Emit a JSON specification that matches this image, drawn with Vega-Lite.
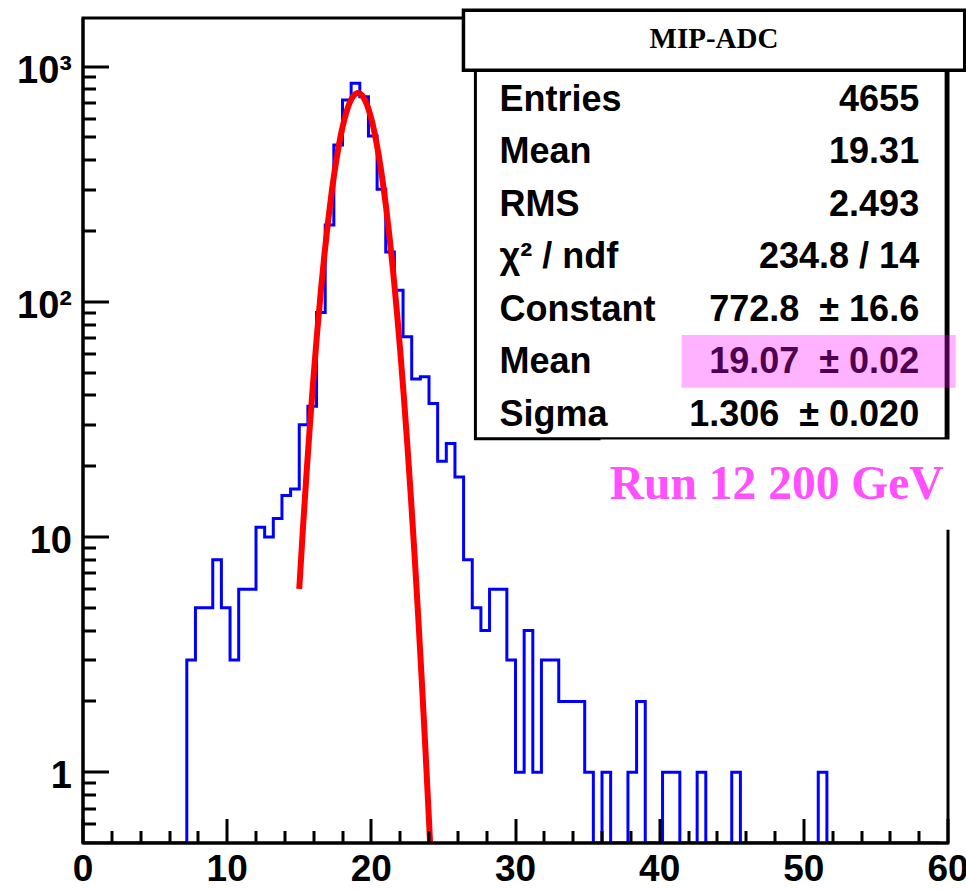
{
  "$schema": "https://vega.github.io/schema/vega-lite/v6.json",
  "width": 865,
  "height": 825,
  "autosize": "none",
  "padding": {"left": 83, "top": 18, "right": 18, "bottom": 47},
  "background": "white",
  "config": {"view": {"stroke": "black", "strokeWidth": 3}, "axis": {"grid": false}},
  "datasets": {
    "hist": [
      {"adc": 0.0, "count": 0}, {"adc": 0.6, "count": 0}, {"adc": 1.2, "count": 0}, {"adc": 1.8, "count": 0},
      {"adc": 2.4, "count": 0}, {"adc": 3.0, "count": 0}, {"adc": 3.6, "count": 0}, {"adc": 4.2, "count": 0},
      {"adc": 4.8, "count": 0}, {"adc": 5.4, "count": 0}, {"adc": 6.0, "count": 0}, {"adc": 6.6, "count": 0},
      {"adc": 7.2, "count": 3}, {"adc": 7.8, "count": 5}, {"adc": 8.4, "count": 5}, {"adc": 9.0, "count": 8},
      {"adc": 9.6, "count": 5}, {"adc": 10.2, "count": 3}, {"adc": 10.8, "count": 6}, {"adc": 11.4, "count": 6},
      {"adc": 12.0, "count": 11}, {"adc": 12.6, "count": 10}, {"adc": 13.2, "count": 12}, {"adc": 13.8, "count": 15},
      {"adc": 14.4, "count": 16}, {"adc": 15.0, "count": 30}, {"adc": 15.6, "count": 36}, {"adc": 16.2, "count": 90},
      {"adc": 16.8, "count": 212}, {"adc": 17.4, "count": 464}, {"adc": 18.0, "count": 721}, {"adc": 18.6, "count": 849},
      {"adc": 19.2, "count": 745}, {"adc": 19.8, "count": 507}, {"adc": 20.4, "count": 301}, {"adc": 21.0, "count": 163},
      {"adc": 21.6, "count": 112}, {"adc": 22.2, "count": 71}, {"adc": 22.8, "count": 47}, {"adc": 23.4, "count": 48},
      {"adc": 24.0, "count": 37}, {"adc": 24.6, "count": 21}, {"adc": 25.2, "count": 25}, {"adc": 25.8, "count": 18},
      {"adc": 26.4, "count": 8}, {"adc": 27.0, "count": 5}, {"adc": 27.6, "count": 4}, {"adc": 28.2, "count": 6},
      {"adc": 28.8, "count": 6}, {"adc": 29.4, "count": 3}, {"adc": 30.0, "count": 1}, {"adc": 30.6, "count": 4},
      {"adc": 31.2, "count": 1}, {"adc": 31.8, "count": 3}, {"adc": 32.4, "count": 3}, {"adc": 33.0, "count": 2},
      {"adc": 33.6, "count": 2}, {"adc": 34.2, "count": 2}, {"adc": 34.8, "count": 1}, {"adc": 35.4, "count": 0},
      {"adc": 36.0, "count": 1}, {"adc": 36.6, "count": 0}, {"adc": 37.2, "count": 0}, {"adc": 37.8, "count": 1},
      {"adc": 38.4, "count": 2}, {"adc": 39.0, "count": 0}, {"adc": 39.6, "count": 0}, {"adc": 40.2, "count": 1},
      {"adc": 40.8, "count": 1}, {"adc": 41.4, "count": 0}, {"adc": 42.0, "count": 0}, {"adc": 42.6, "count": 1},
      {"adc": 43.2, "count": 0}, {"adc": 43.8, "count": 0}, {"adc": 44.4, "count": 0}, {"adc": 45.0, "count": 1},
      {"adc": 45.6, "count": 0}, {"adc": 46.2, "count": 0}, {"adc": 46.8, "count": 0}, {"adc": 47.4, "count": 0},
      {"adc": 48.0, "count": 0}, {"adc": 48.6, "count": 0}, {"adc": 49.2, "count": 0}, {"adc": 49.8, "count": 0},
      {"adc": 50.4, "count": 0}, {"adc": 51.0, "count": 1}, {"adc": 51.6, "count": 0}, {"adc": 52.2, "count": 0},
      {"adc": 52.8, "count": 0}, {"adc": 53.4, "count": 0}, {"adc": 54.0, "count": 0}, {"adc": 54.6, "count": 0},
      {"adc": 55.2, "count": 0}, {"adc": 55.8, "count": 0}, {"adc": 56.4, "count": 0}, {"adc": 57.0, "count": 0},
      {"adc": 57.6, "count": 0}, {"adc": 58.2, "count": 0}, {"adc": 58.8, "count": 0}, {"adc": 59.4, "count": 0}
    ],
    "fit": [
      {"adc": 15.0, "fit": 6.015}, {"adc": 15.25, "fit": 10.72}, {"adc": 15.5, "fit": 18.43}, {"adc": 15.75, "fit": 30.53},
      {"adc": 16.0, "fit": 48.77}, {"adc": 16.25, "fit": 75.10}, {"adc": 16.5, "fit": 111.48}, {"adc": 16.75, "fit": 159.55},
      {"adc": 17.0, "fit": 220.07}, {"adc": 17.25, "fit": 292.66}, {"adc": 17.5, "fit": 375.20}, {"adc": 17.75, "fit": 463.71},
      {"adc": 18.0, "fit": 552.45}, {"adc": 18.25, "fit": 634.55}, {"adc": 18.5, "fit": 702.59}, {"adc": 18.75, "fit": 749.95},
      {"adc": 19.0, "fit": 771.69}, {"adc": 19.07, "fit": 772.8}, {"adc": 19.25, "fit": 765.49}, {"adc": 19.5, "fit": 732.03},
      {"adc": 19.75, "fit": 674.83}, {"adc": 20.0, "fit": 599.75}, {"adc": 20.25, "fit": 513.80}, {"adc": 20.5, "fit": 424.35},
      {"adc": 20.75, "fit": 337.86}, {"adc": 21.0, "fit": 259.33}, {"adc": 21.25, "fit": 191.88}, {"adc": 21.5, "fit": 136.89},
      {"adc": 21.75, "fit": 94.12}, {"adc": 22.0, "fit": 62.38}, {"adc": 22.25, "fit": 39.86}, {"adc": 22.5, "fit": 24.56},
      {"adc": 22.75, "fit": 14.59}, {"adc": 23.0, "fit": 8.352}, {"adc": 23.25, "fit": 4.609}, {"adc": 23.5, "fit": 2.452},
      {"adc": 23.75, "fit": 1.258}, {"adc": 24.0, "fit": 0.622}, {"adc": 24.075, "fit": 0.5}
    ]
  },
  "resolve": {"scale": {"x": "independent", "y": "independent"}, "axis": {"x": "independent", "y": "independent"}},
  "layer": [
    {
      "data": {"name": "hist"},
      "mark": {"type": "line", "interpolate": "step-after", "color": "#0000ff", "strokeWidth": 3, "invalid": "show", "clip": true},
      "encoding": {
        "x": {"field": "adc", "type": "quantitative", "scale": {"domain": [0, 60], "nice": false, "zero": false},
          "axis": {"orient": "bottom", "values": [0, 10, 20, 30, 40, 50, 60], "tickSize": -24, "tickWidth": 3, "tickColor": "black",
            "domainColor": "black", "domainWidth": 3, "labelFont": "Liberation Sans", "labelFontWeight": "bold", "labelFontSize": 37,
            "labelColor": "black", "labelPadding": 33, "labelFlush": false, "labelOverlap": false, "title": null, "grid": false,
            "zindex": 1, "translate": 0}},
        "y": {"field": "count", "type": "quantitative", "scale": {"type": "log", "domain": [0.5, 1610], "nice": false, "clamp": true},
          "axis": {"orient": "left", "values": [1, 10, 100, 1000],
            "labelExpr": "datum.value >= 1000 ? '10³' : datum.value >= 100 ? '10²' : datum.value >= 10 ? '10' : '1'",
            "tickSize": -26, "tickWidth": 3, "tickColor": "black", "domainColor": "black", "domainWidth": 3,
            "labelFont": "Liberation Sans", "labelFontWeight": "bold", "labelFontSize": 38, "labelColor": "black",
            "labelPadding": 37, "labelOffset": 5, "labelBaseline": "middle", "labelAlign": "right", "labelFlush": false, "labelOverlap": false,
            "title": null, "grid": false, "zindex": 1, "translate": 0}}
      }
    },
    {
      "data": {"name": "fit"},
      "mark": {"type": "line", "color": "#ff0000", "strokeWidth": 6, "interpolate": "monotone", "clip": true},
      "encoding": {
        "x": {"field": "adc", "type": "quantitative", "scale": {"domain": [0, 60], "nice": false, "zero": false},
          "axis": {"orient": "bottom", "values": [2, 4, 6, 8, 12, 14, 16, 18, 22, 24, 26, 28, 32, 34, 36, 38, 42, 44, 46, 48, 52, 54, 56, 58],
            "tickSize": -12, "tickWidth": 3, "tickColor": "black", "labels": false, "domain": false, "title": null, "grid": false,
            "zindex": 1, "translate": 0}},
        "y": {"field": "fit", "type": "quantitative", "scale": {"type": "log", "domain": [0.5, 1610], "nice": false},
          "axis": {"orient": "left", "values": [0.6, 0.7, 0.8, 0.9, 2, 3, 4, 5, 6, 7, 8, 9, 20, 30, 40, 50, 60, 70, 80, 90, 200, 300, 400, 500, 600, 700, 800, 900],
            "tickSize": -13, "tickWidth": 3, "tickColor": "black", "labels": false, "domain": false, "title": null, "grid": false,
            "zindex": 1, "translate": 0}}
      }
    },
    {
      "data": {"values": [{}]},
      "mark": {"type": "rect", "fill": "white", "stroke": "black", "strokeWidth": 3, "clip": false},
      "encoding": {
        "x": {"datum": 27.22, "type": "quantitative", "scale": {"domain": [0, 60], "nice": false, "zero": false}, "axis": null},
        "x2": {"datum": 59.87},
        "y": {"datum": 966, "type": "quantitative", "scale": {"type": "log", "domain": [0.5, 1610], "nice": false}, "axis": null},
        "y2": {"datum": 26.2}
      }
    },
    {
      "data": {"values": [{}]},
      "mark": {"type": "rect", "fill": "white", "stroke": "black", "strokeWidth": 3.5, "clip": false},
      "encoding": {
        "x": {"datum": 26.39, "type": "quantitative", "scale": {"domain": [0, 60], "nice": false, "zero": false}, "axis": null},
        "x2": {"datum": 61.16},
        "y": {"datum": 1738, "type": "quantitative", "scale": {"type": "log", "domain": [0.5, 1610], "nice": false}, "axis": null},
        "y2": {"datum": 966}
      }
    },
    {
      "data": {"values": [{}]},
      "mark": {"type": "rect", "fill": "white", "strokeWidth": 0, "clip": false},
      "encoding": {
        "x": {"datum": 35.9, "type": "quantitative", "scale": {"domain": [0, 60], "nice": false, "zero": false}, "axis": null},
        "x2": {"datum": 61.3},
        "y": {"datum": 26.0, "type": "quantitative", "scale": {"type": "log", "domain": [0.5, 1610], "nice": false}, "axis": null},
        "y2": {"datum": 10.74}
      }
    },
    {
      "data": {"values": [{}]},
      "mark": {"type": "text", "font": "Liberation Serif", "fontWeight": "bold", "fontSize": 29, "align": "center", "baseline": "alphabetic", "color": "black", "clip": false},
      "encoding": {
        "x": {"datum": 43.77, "type": "quantitative", "scale": {"domain": [0, 60], "nice": false, "zero": false}, "axis": null},
        "y": {"datum": 1202, "type": "quantitative", "scale": {"type": "log", "domain": [0.5, 1610], "nice": false}, "axis": null},
        "text": {"value": "MIP-ADC"}
      }
    },
    {
      "data": {"values": [{}]},
      "mark": {"type": "text", "font": "Liberation Sans", "fontWeight": "bold", "fontSize": 36, "align": "left", "baseline": "alphabetic", "lineHeight": 52.5, "color": "black", "clip": false},
      "encoding": {
        "x": {"datum": 28.89, "type": "quantitative", "scale": {"domain": [0, 60], "nice": false, "zero": false}, "axis": null},
        "y": {"datum": 650, "type": "quantitative", "scale": {"type": "log", "domain": [0.5, 1610], "nice": false}, "axis": null},
        "text": {"value": ["Entries", "Mean", "RMS", "χ² / ndf", "Constant", "Mean", "Sigma"]}
      }
    },
    {
      "data": {"values": [{}]},
      "mark": {"type": "text", "font": "Liberation Sans", "fontWeight": "bold", "fontSize": 36, "align": "right", "baseline": "alphabetic", "lineHeight": 52.5, "color": "black", "clip": false},
      "encoding": {
        "x": {"datum": 58.0, "type": "quantitative", "scale": {"domain": [0, 60], "nice": false, "zero": false}, "axis": null},
        "y": {"datum": 650, "type": "quantitative", "scale": {"type": "log", "domain": [0.5, 1610], "nice": false}, "axis": null},
        "text": {"value": ["4655", "19.31", "2.493", "234.8 / 14", "772.8\u00a0\u00a0± 16.6", "19.07\u00a0\u00a0± 0.02", "1.306\u00a0\u00a0± 0.020"]}
      }
    },
    {
      "data": {"values": [{}]},
      "mark": {"type": "rect", "fill": "#ff00ff", "opacity": 0.3, "strokeWidth": 0, "clip": false},
      "encoding": {
        "x": {"datum": 41.52, "type": "quantitative", "scale": {"domain": [0, 60], "nice": false, "zero": false}, "axis": null},
        "x2": {"datum": 60.53},
        "y": {"datum": 72.3, "type": "quantitative", "scale": {"type": "log", "domain": [0.5, 1610], "nice": false}, "axis": null},
        "y2": {"datum": 43.1}
      }
    },
    {
      "data": {"values": [{}]},
      "mark": {"type": "text", "font": "Liberation Serif", "fontWeight": "bold", "fontSize": 47.5, "align": "right", "baseline": "alphabetic", "color": "#ff4fff", "clip": false},
      "encoding": {
        "x": {"datum": 59.7, "type": "quantitative", "scale": {"domain": [0, 60], "nice": false, "zero": false}, "axis": null},
        "y": {"datum": 14.54, "type": "quantitative", "scale": {"type": "log", "domain": [0.5, 1610], "nice": false}, "axis": null},
        "text": {"value": "Run 12 200 GeV"}
      }
    }
  ]
}
